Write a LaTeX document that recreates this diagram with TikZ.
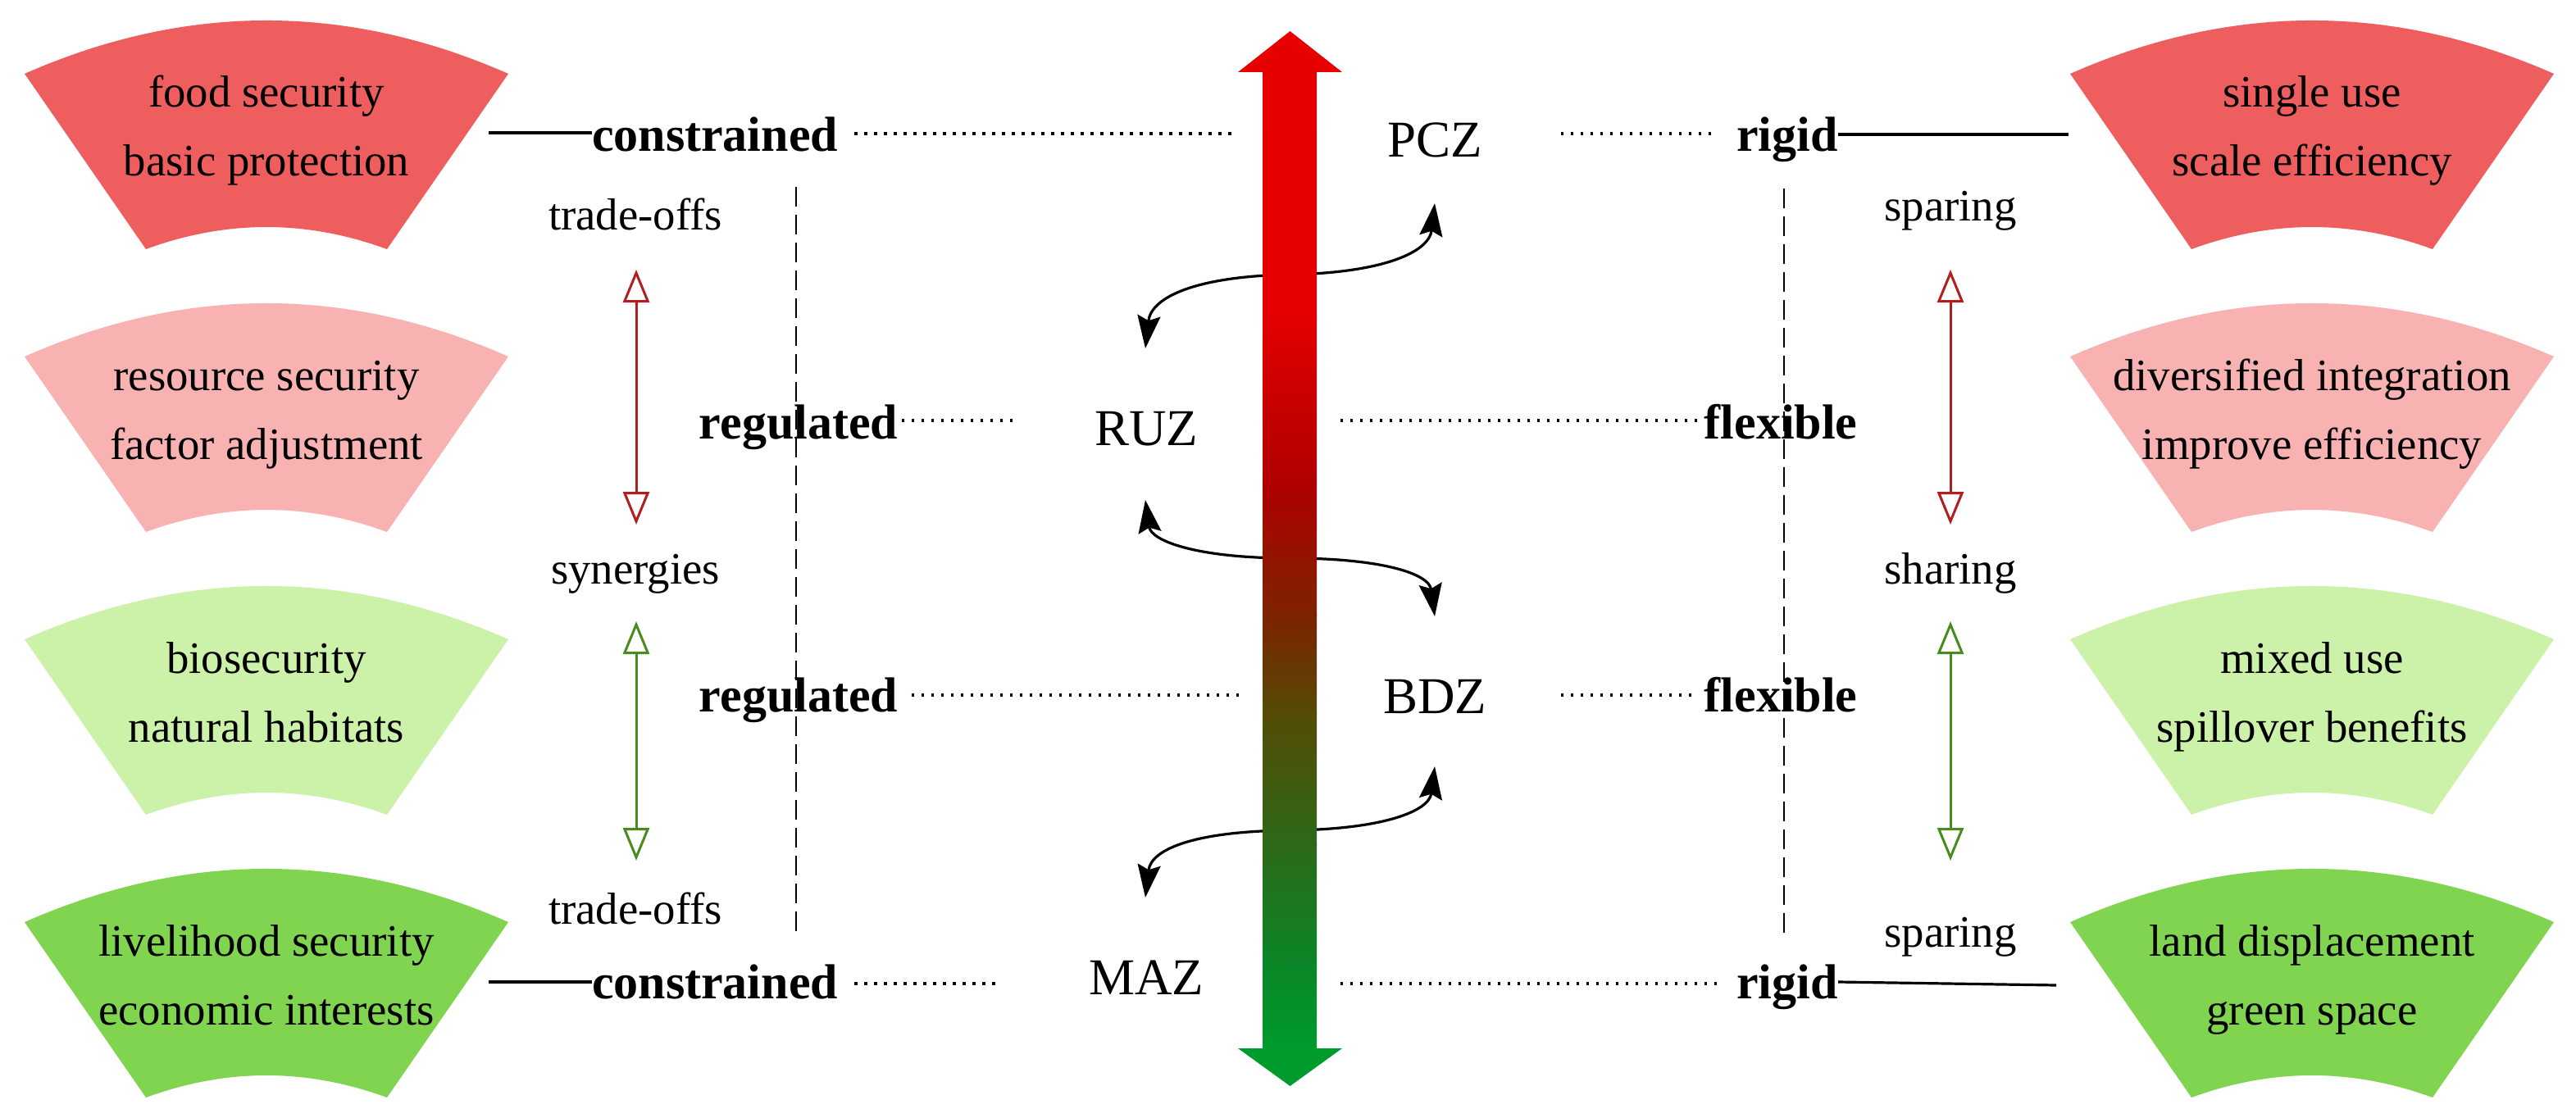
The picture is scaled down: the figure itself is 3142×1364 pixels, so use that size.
\documentclass[tikz,border=0pt]{standalone}
\usepackage{fontspec}
\setmainfont{Liberation Serif}
\usetikzlibrary{arrows.meta}
\definecolor{fanred}{RGB}{239,94,94}
\definecolor{fanpink}{RGB}{248,178,178}
\definecolor{fanlgreen}{RGB}{204,242,170}
\definecolor{fangreen}{RGB}{128,212,80}
\definecolor{arrred}{RGB}{178,30,30}
\definecolor{arrgreen}{RGB}{70,140,30}
\definecolor{ga}{RGB}{230,0,0}
\definecolor{gb}{RGB}{228,0,0}
\definecolor{gc}{RGB}{175,0,0}
\definecolor{gd}{RGB}{125,35,0}
\definecolor{ge}{RGB}{85,75,5}
\definecolor{gf}{RGB}{45,105,25}
\definecolor{gg}{RGB}{10,135,40}
\definecolor{gh}{RGB}{0,155,45}
\newcommand\myfan[3]{%
  \fill[#1, shift={(#2,#3)}] (30,90) .. controls (226.7,3.3) and (423.3,3.3) .. (620,90)
    -- (472,304) .. controls (374,268) and (276,268) .. (178,304) -- cycle;}
\tikzset{
  shapetext/.style={font=\fontsize{27.4}{33}\selectfont, anchor=base, inner sep=0pt},
  boldlbl/.style={font=\fontsize{30}{36}\selectfont\bfseries, anchor=base, inner sep=0pt},
  zonelbl/.style={font=\fontsize{31.5}{38}\selectfont, anchor=base, inner sep=0pt},
  dotline/.style={line width=1.6pt, dash pattern=on 1.7pt off 4.3pt},
  solidline/.style={line width=1.6pt},
  dashline/.style={line width=1.4pt, dash pattern=on 12pt off 5pt},
  curvearrow/.style={line width=1.6pt, {Stealth[length=20pt,width=14pt,inset=3pt]}-{Stealth[length=20pt,width=14pt,inset=3pt]}},
  redarrow/.style={draw=arrred, line width=1.5pt, {Triangle[open,length=20pt,width=16pt]}-{Triangle[open,length=20pt,width=16pt]}},
  greenarrow/.style={draw=arrgreen, line width=1.5pt, {Triangle[open,length=20pt,width=16pt]}-{Triangle[open,length=20pt,width=16pt]}},
}
\begin{document}
\begin{tikzpicture}[x=0.5pt, y=-0.5pt]
\useasboundingbox (0,0) rectangle (3142,1364);
\fill[white] (0,0) rectangle (3142,1364);
% fan shapes
\myfan{fanred}{0}{0}
\myfan{fanpink}{0}{345}
\myfan{fanlgreen}{0}{690}
\myfan{fangreen}{0}{1035}
\myfan{fanred}{2495}{0}
\myfan{fanpink}{2495}{345}
\myfan{fanlgreen}{2495}{690}
\myfan{fangreen}{2495}{1035}
% fan texts
\node[shapetext] (f1a) at (325,131) {food security};
\node[shapetext] (f1b) at (325,215) {basic protection};
\node[shapetext] (f2a) at (325,476) {resource security};
\node[shapetext] (f2b) at (325,560) {factor adjustment};
\node[shapetext] (f3a) at (325,821) {biosecurity};
\node[shapetext] (f3b) at (325,905) {natural habitats};
\node[shapetext] (f4a) at (325,1166) {livelihood security};
\node[shapetext] (f4b) at (325,1250) {economic interests};
\node[shapetext] (h1a) at (2820,131) {single use};
\node[shapetext] (h1b) at (2820,215) {scale efficiency};
\node[shapetext] (h2a) at (2820,476) {diversified integration};
\node[shapetext] (h2b) at (2820,560) {improve efficiency};
\node[shapetext] (h3a) at (2820,821) {mixed use};
\node[shapetext] (h3b) at (2820,905) {spillover benefits};
\node[shapetext] (h4a) at (2820,1166) {land displacement};
\node[shapetext] (h4b) at (2820,1250) {green space};
% bold labels
\node[boldlbl] (c1) at (872,185) {constrained};
\node[boldlbl] (r2) at (974,535) {regulated};
\node[boldlbl] (r3) at (974,868) {regulated};
\node[boldlbl] (c4) at (872,1218) {constrained};
\node[boldlbl] (g1) at (2180,185) {rigid};
\node[boldlbl] (x2) at (2172,535) {flexible};
\node[boldlbl] (x3) at (2172,868) {flexible};
\node[boldlbl] (g4) at (2180,1218) {rigid};
% zone labels
\node[zonelbl] (pcz) at (1750,192) {PCZ};
\node[zonelbl] (ruz) at (1398,543) {RUZ};
\node[zonelbl] (bdz) at (1750,870) {BDZ};
\node[zonelbl] (maz) at (1398,1213) {MAZ};
% small labels
\node[shapetext] (to1) at (775,280) {trade-offs};
\node[shapetext] (syn) at (775,712) {synergies};
\node[shapetext] (to4) at (775,1127) {trade-offs};
\node[shapetext] (sp1) at (2379,270) {sparing};
\node[shapetext] (sh) at (2379,712) {sharing};
\node[shapetext] (sp4) at (2379,1155) {sparing};
% coordinates
\coordinate (l1a) at (596,162);
\coordinate (d1a) at (1503,163);
\coordinate (d1b) at (1904,163);
\coordinate (l1b) at (2523,164);
\coordinate (d2a) at (1240,513);
\coordinate (d2b) at (1635,513);
\coordinate (d3a) at (1513,848);
\coordinate (d3b) at (1904,848);
\coordinate (l4a) at (596,1198);
\coordinate (d4a) at (1222,1200);
\coordinate (d4b) at (1635,1200);
\coordinate (l4b) at (2508,1202);
% solid connectors
\draw[solidline] (l1a) -- (c1.west |- l1a);
\draw[solidline] (g1.east |- l1b) -- (l1b);
\draw[solidline] (l4a) -- (c4.west |- l4a);
\draw[solidline] (g4.east |- 0,1198) -- (l4b);
% dotted connectors
\draw[dotline] ([xshift=10pt]c1.east |- d1a) -- (d1a);
\draw[dotline] (d1b) -- ([xshift=-12pt]g1.west |- d1b);
\draw[dotline] ([xshift=2pt]r2.east |- d2a) -- (d2a);
\draw[dotline] (d2b) -- ([xshift=-4pt]x2.west |- d2b);
\draw[dotline] ([xshift=8pt]r3.east |- d3a) -- (d3a);
\draw[dotline] (d3b) -- ([xshift=-4pt]x3.west |- d3b);
\draw[dotline] ([xshift=10pt]c4.east |- d4a) -- (d4a);
\draw[dotline] (d4b) -- ([xshift=-10pt]g4.west |- d4b);
% dashed verticals
\coordinate (vl1) at (971,228);
\coordinate (vl2) at (971,1142);
\coordinate (vr1) at (2176,230);
\coordinate (vr2) at (2176,1142);
\draw[dashline] (vl1) -- (vl2);
\draw[dashline] (vr1) -- (vr2);
% double arrows
\coordinate (ra1) at (776,329); \coordinate (ra2) at (776,640);
\coordinate (ga1) at (776,758); \coordinate (ga2) at (776,1050);
\coordinate (rb1) at (2379,329); \coordinate (rb2) at (2379,640);
\coordinate (gb1) at (2379,758); \coordinate (gb2) at (2379,1050);
\draw[redarrow] (ra1) -- (ra2);
\draw[greenarrow] (ga1) -- (ga2);
\draw[redarrow] (rb1) -- (rb2);
\draw[greenarrow] (gb1) -- (gb2);
% curved arrows
\coordinate (A1) at (1397,425); \coordinate (B1) at (1750,248);
\coordinate (A2) at (1397,610); \coordinate (B2) at (1750,752);
\coordinate (A3) at (1397,1095); \coordinate (B3) at (1750,935);
\draw[curvearrow] (A1) .. controls (1404,362) and (1460,337) .. (1573,335) .. controls (1686,333) and (1743,308) .. (B1);
\draw[curvearrow] (A2) .. controls (1404,660) and (1460,681) .. (1573,681) .. controls (1686,681) and (1743,700) .. (B2);
\draw[curvearrow] (A3) .. controls (1404,1035) and (1460,1014) .. (1573,1013) .. controls (1686,1012) and (1743,990) .. (B3);
% central gradient arrow
\fill[ga] (1510,88) -- (1573.5,38) -- (1637,88) -- cycle;
\fill[gh] (1510,1279) -- (1573.5,1325) -- (1637,1279) -- cycle;
\shade[top color=ga, bottom color=gb] (1540,86) rectangle (1606,386);
\shade[top color=gb, bottom color=gc] (1540,385) rectangle (1606,591);
\shade[top color=gc, bottom color=gd] (1540,590) rectangle (1606,751);
\shade[top color=gd, bottom color=ge] (1540,750) rectangle (1606,871);
\shade[top color=ge, bottom color=gf] (1540,870) rectangle (1606,1031);
\shade[top color=gf, bottom color=gg] (1540,1030) rectangle (1606,1181);
\shade[top color=gg, bottom color=gh] (1540,1180) rectangle (1606,1281);
\end{tikzpicture}
\end{document}
